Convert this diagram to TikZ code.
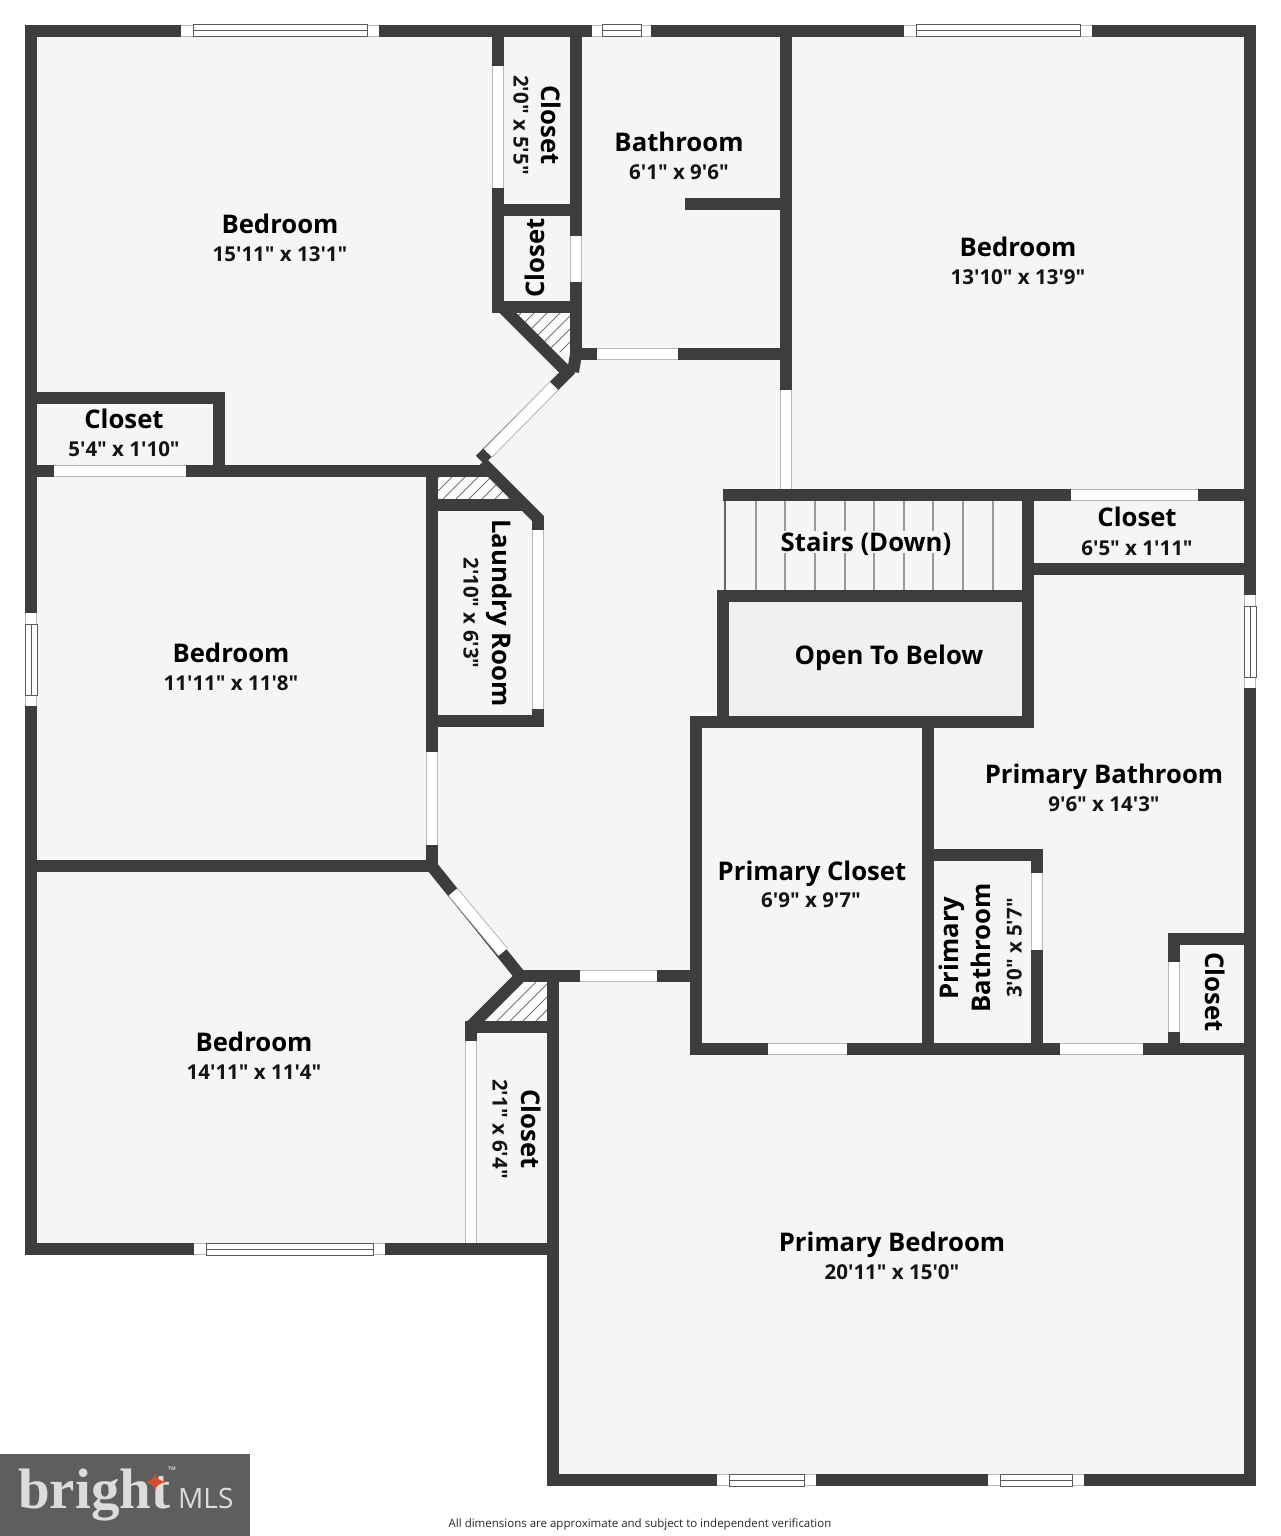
\documentclass[tikz,border=0pt]{standalone}
\usepackage{fontspec}
\setmainfont{Open Sans}
\newfontfamily\txtfont{Open Sans}[Ligatures=ResetAll,Contextuals=ResetAll]
\newfontfamily\logofont{Liberation Serif}
\newcommand{\ft}{\char39 }
\newcommand{\inc}{\char34 }
\definecolor{wallc}{HTML}{3D3D3D}
\definecolor{floorc}{HTML}{F5F5F5}
\definecolor{openc}{HTML}{F0F0F0}
\definecolor{edgec}{HTML}{B8B8B8}
\definecolor{logobg}{HTML}{5E5E5E}
\definecolor{logotx}{HTML}{DCDCDC}
\definecolor{logost}{HTML}{D2502D}
\newcommand{\doorgap}[2]{%
  \draw[line width=12.4pt,edgec] #1 -- #2;
  \draw[line width=10.4pt,white] #1 -- #2;}
\newcommand{\hwin}[5]{% x1 x2 xi1 xi2 y
  \doorgap{(#1,#5)}{(#2,#5)}
  \draw[winframe,fill=white] (#3,#5-6) rectangle (#4,#5+6);
  \draw[winframe] (#3,#5) -- (#4,#5);}
\newcommand{\vwin}[5]{% y1 y2 yi1 yi2 x
  \doorgap{(#5,#1)}{(#5,#2)}
  \draw[winframe,fill=white] (#5-6,#3) rectangle (#5+6,#4);
  \draw[winframe] (#5,#3) -- (#5,#4);}
\newcommand{\hatchzone}[2]{% polygon, phase
  \begin{scope}
    \clip #1 -- cycle;
    \fill[white!60!floorc] (400,250) rectangle (620,1050);
    \foreach \k in {0,...,90}{
      \draw[hatchline] (-500+\k*13+#2,1100) -- (400+\k*13+#2,200);
    }
  \end{scope}}
\tikzset{
  wall/.style={wallc,line width=12pt,line cap=rect,line join=miter},
  winframe/.style={draw=black!65,line width=1pt},
  hatchline/.style={black!55,line width=.9pt},
  stairline/.style={black!40,line width=1.2pt},
  lbl/.style={font=\txtfont\fontsize{25.7}{28}\selectfont\bfseries,text=black,align=center,inner sep=0pt,text height=19.5pt,text depth=0pt},
  dimtxt/.style={font=\txtfont\fontsize{20.5}{22}\selectfont\bfseries,text=black!92,inner sep=0pt,text height=17pt,text depth=0pt},
}
\begin{document}
\begin{tikzpicture}[x=1pt,y=-1pt]
\useasboundingbox (0,0) rectangle (1281,1536);
\fill[white] (0,0) rectangle (1281,1536);
% floor
\fill[floorc] (31,31) -- (1250,31) -- (1250,1480) -- (553,1480) -- (553,1249) -- (31,1249) -- cycle;
\fill[openc] (723,596) rectangle (1028,722);
% hatched voids
\hatchzone{(516,313) -- (570,313) -- (570,352) -- (555,352)}{0}
\hatchzone{(438,477) -- (490,477) -- (510,499) -- (438,499)}{4}
\hatchzone{(523,982) -- (548,982) -- (548,1022) -- (487,1022)}{8}
% stairs
\foreach \sx in {756,785,815,845,874,904,933,963,993}{\draw[stairline] (\sx,500) -- (\sx,591);}
\draw[black!60,line width=1.6pt] (725,500) -- (725,591);
% outer walls
\draw[wall] (31,31) -- (1250,31) -- (1250,1480) -- (553,1480) -- (553,1249) -- (31,1249) -- cycle;
% upper left closets
\draw[wall] (498,31) -- (498,307);
\draw[wall] (576,31) -- (576,354) -- (786,354);
\draw[wall] (498,210) -- (576,210);
\draw[wall] (498,307) -- (576,307);
\draw[wall,line cap=butt] (499,304) -- (568,373);
\draw[wall,line cap=butt] (571,369) -- (480,460);
\draw[wall] (576,354) -- (574,366);
% bathroom, bedroom right
\draw[wall] (786,31) -- (786,495);
\draw[wall] (691,204) -- (786,204);
% closet left, laundry
\draw[wall] (31,398) -- (219,398) -- (219,471);
\draw[wall] (31,471) -- (484,471);
\draw[wall,line cap=butt] (482,462.5) -- (540,520.5);
\draw[wall,line cap=butt] (538,517) -- (538,727);
\draw[wall,line cap=butt] (432,505) -- (522,505);
\draw[wall] (432,721) -- (538,721);
\draw[wall] (432,471) -- (432,866);
% bedroom lower left
\draw[wall] (31,866) -- (432,866);
\draw[wall,line cap=butt] (430,864) -- (522,978);
\draw[wall] (524,976) -- (696,976);
\draw[wall,line cap=butt] (522,975) -- (469,1028);
\draw[wall] (553,976) -- (553,1249);
\draw[wall] (471,1027) -- (553,1027);
\draw[wall] (471,1027) -- (471,1249);
% centre block
\draw[wall] (729,495) -- (1250,495);
\draw[wall] (1028,495) -- (1028,722);
\draw[wall] (1028,569) -- (1250,569);
\draw[wall] (723,596) -- (1028,596);
\draw[wall] (723,596) -- (723,722) -- (1028,722);
\draw[wall] (696,722) -- (723,722);
\draw[wall] (696,722) -- (696,1049) -- (1250,1049);
\draw[wall] (928,722) -- (928,1049);
\draw[wall] (928,855) -- (1037,855) -- (1037,1049);
\draw[wall] (1174,939) -- (1250,939);
\draw[wall] (1174,939) -- (1174,1049);
% door gaps
\doorgap{(498,66)}{(498,188)}
\doorgap{(576,236)}{(576,282)}
\doorgap{(597,354)}{(678,354)}
\doorgap{(786,390)}{(786,489)}
\doorgap{(554,386)}{(488,453)}
\doorgap{(54,471)}{(186,471)}
\doorgap{(538,530)}{(538,709)}
\doorgap{(432,752)}{(432,845)}
\doorgap{(453,892)}{(503,952)}
\doorgap{(580,976)}{(657,976)}
\doorgap{(471,1041)}{(471,1243)}
\doorgap{(1071,495)}{(1198,495)}
\doorgap{(1037,873)}{(1037,950)}
\doorgap{(1174,962)}{(1174,1032)}
\doorgap{(768,1049)}{(847,1049)}
\doorgap{(1060,1049)}{(1143,1049)}
% windows
\hwin{181}{379}{193}{367}{31}
\hwin{592}{651}{602}{641}{31}
\hwin{904}{1092}{916}{1080}{31}
\hwin{194}{385}{206}{373}{1249}
\hwin{717}{816}{729}{804}{1480}
\hwin{988}{1084}{1000}{1072}{1480}
\vwin{613}{706}{624}{695}{31}
\vwin{595}{688}{606}{677}{1250}
% labels
\node[lbl] (bedA) at (280,224) {Bedroom};
\node[dimtxt] (bedAd) at (280,253) {15\ft 11\inc\ x 13\ft 1\inc};
\node[lbl,rotate=-90] (cloA) at (551,125) {Closet};
\node[dimtxt,rotate=-90] (cloAd) at (522,125) {2\ft 0\inc\ x 5\ft 5\inc};
\node[lbl,rotate=90] (cloB) at (535,258) {Closet};
\node[lbl] (bath) at (679,142) {Bathroom};
\node[dimtxt] (bathd) at (679,171) {6\ft 1\inc\ x 9\ft 6\inc};
\node[lbl] (bedB) at (1018,247) {Bedroom};
\node[dimtxt] (bedBd) at (1018,276) {13\ft 10\inc\ x 13\ft 9\inc};
\node[lbl] (cloC) at (124,419) {Closet};
\node[dimtxt] (cloCd) at (124,448) {5\ft 4\inc\ x 1\ft 10\inc};
\node[lbl] (bedC) at (231,653) {Bedroom};
\node[dimtxt] (bedCd) at (231,682) {11\ft 11\inc\ x 11\ft 8\inc};
\node[lbl,rotate=-90] (laun) at (502,613) {Laundry Room};
\node[dimtxt,rotate=-90] (laund) at (472,613) {2\ft 10\inc\ x 6\ft 3\inc};
\node[lbl,fill=floorc,inner sep=1pt] (stairs) at (866,542) {Stairs (Down)};
\node[lbl] (open) at (889,655) {Open To Below};
\node[lbl] (cloD) at (1137,517) {Closet};
\node[dimtxt] (cloDd) at (1137,547) {6\ft 5\inc\ x 1\ft 11\inc};
\node[lbl] (pbath) at (1104,774) {Primary Bathroom};
\node[dimtxt] (pbathd) at (1104,803) {9\ft 6\inc\ x 14\ft 3\inc};
\node[lbl] (pclo) at (812,871) {Primary Closet};
\node[dimtxt] (pclod) at (811,899) {6\ft 9\inc\ x 9\ft 7\inc};
\node[lbl,rotate=90] (pbA) at (949,948) {Primary};
\node[lbl,rotate=90] (pbB) at (981,948) {Bathroom};
\node[dimtxt,rotate=90] (pbd) at (1013,948) {3\ft 0\inc\ x 5\ft 7\inc};
\node[lbl,rotate=-90] (cloE) at (1215,992) {Closet};
\node[lbl] (bedD) at (254,1042) {Bedroom};
\node[dimtxt] (bedDd) at (254,1071) {14\ft 11\inc\ x 11\ft 4\inc};
\node[lbl,rotate=-90] (cloF) at (531,1129) {Closet};
\node[dimtxt,rotate=-90] (cloFd) at (501,1129) {2\ft 1\inc\ x 6\ft 4\inc};
\node[lbl] (pbed) at (892,1242) {Primary Bedroom};
\node[dimtxt] (pbedd) at (892,1271) {20\ft 11\inc\ x 15\ft 0\inc};
% logo
\fill[logobg] (0,1454) rectangle (250,1536);
\node[font=\logofont\fontsize{57}{57}\selectfont\bfseries,text=logotx,anchor=base west,inner sep=0pt] (logo) at (18,1508) {bright};
\fill[logost] (155,1473) .. controls (156,1478) and (158,1480) .. (166,1482) .. controls (158,1484) and (156,1486) .. (155,1491) .. controls (154,1486) and (152,1484) .. (145,1482) .. controls (152,1480) and (154,1478) .. (155,1473) -- cycle;
\node[font=\fontsize{28}{28}\selectfont,text=logotx,anchor=base west,inner sep=0pt] (mls) at (178,1508) {MLS};
\node[font=\fontsize{5}{5}\selectfont\bfseries,text=logotx,inner sep=0pt] (tm) at (172,1469) {TM};
% footer
\node[font=\fontsize{11.5}{12}\selectfont,text=black!85,inner sep=0pt] (foot) at (640,1524) {All dimensions are approximate and subject to independent verification};
\end{tikzpicture}
\end{document}
